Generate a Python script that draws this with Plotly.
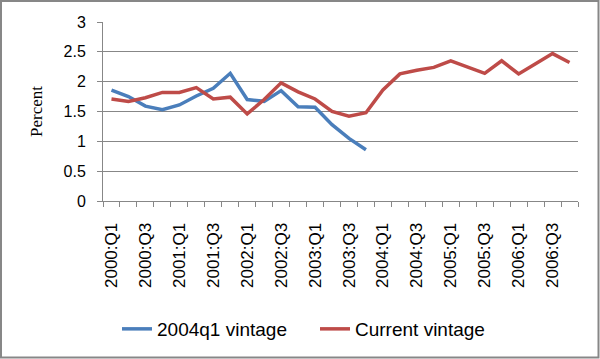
import plotly.graph_objects as go

quarters = [f"{y}:Q{q}" for y in range(2000, 2007) for q in range(1, 5)]
vintage_2004q1 = [1.86, 1.75, 1.59, 1.53, 1.61, 1.76, 1.89, 2.14,
                  1.70, 1.67, 1.85, 1.58, 1.57, 1.28, 1.05, 0.86]
current_vintage = [1.71, 1.67, 1.73, 1.82, 1.82, 1.90, 1.71, 1.74,
                   1.46, 1.70, 1.98, 1.83, 1.71, 1.50, 1.42, 1.48,
                   1.86, 2.13, 2.19, 2.24, 2.35, 2.24, 2.14, 2.35,
                   2.13, 2.30, 2.47, 2.32]
y_ticks = [0, 0.5, 1, 1.5, 2, 2.5, 3]

idx_all = list(range(len(quarters)))
label_idx = idx_all[::2]
grid_col = "#878787"

fig = go.Figure()
fig.add_trace(go.Scatter(x=idx_all[:len(vintage_2004q1)], y=vintage_2004q1,
                         mode="lines", name="2004q1 vintage",
                         line=dict(color="#4A7EBB", width=3.5)))
fig.add_trace(go.Scatter(x=idx_all, y=current_vintage,
                         mode="lines", name="Current vintage",
                         line=dict(color="#BE4B48", width=3.5)))

L, R, T, B = 103, 22, 22, 158
W, H = 600, 359
pw, ph = W - L - R, H - T - B

fig.update_layout(
    width=W, height=H,
    margin=dict(l=L, r=R, t=T, b=B, autoexpand=False),
    paper_bgcolor="white", plot_bgcolor="white",
    font=dict(family="Liberation Sans", color="#000000"),
    showlegend=True,
    legend=dict(orientation="h", x=(122 - 5 - L) / pw, xanchor="left",
                y=(T + ph - 329) / ph, yanchor="middle",
                entrywidth=153, entrywidthmode="pixels",
                font=dict(size=19, family="Liberation Sans"),
                bgcolor="rgba(0,0,0,0)"),
    xaxis=dict(range=[-0.5, len(quarters) - 0.5], automargin=False,
               tickmode="array", tickvals=label_idx,
               ticktext=[quarters[i] for i in label_idx],
               tickangle=-90, ticks="", ticklabelstandoff=14,
               tickfont=dict(size=17),
               showgrid=False, zeroline=False,
               showline=True, linecolor=grid_col, linewidth=1,
               minor=dict(tickmode="array",
                          tickvals=[i - 0.5 for i in range(len(quarters) + 1)],
                          ticks="outside", ticklen=5, tickcolor=grid_col,
                          tickwidth=1, showgrid=False)),
    yaxis=dict(range=[0, 3], tickmode="array", tickvals=y_ticks, automargin=False,
               ticktext=[f"{v:g}" for v in y_ticks],
               ticks="outside", ticklen=5, tickcolor=grid_col,
               ticklabelstandoff=8,
               tickfont=dict(size=16),
               showgrid=True, gridcolor=grid_col, gridwidth=1,
               zeroline=False, showline=True, linecolor=grid_col, linewidth=1,
               title=dict(text="Percent", standoff=16,
                          font=dict(family="Liberation Serif", size=17))),
    shapes=[dict(type="rect", xref="paper", yref="paper",
                 x0=(1 - L) / pw, x1=(W - 1.5 - L) / pw,
                 y0=(T + ph - (H - 1.5)) / ph, y1=(T + ph - 1) / ph,
                 line=dict(color="#878787", width=2), fillcolor="rgba(0,0,0,0)",
                 layer="above")],
)

fig.write_html("out.html", config={"displayModeBar": False},
               post_script="document.body.style.margin='0';document.body.style.overflow='hidden';")
